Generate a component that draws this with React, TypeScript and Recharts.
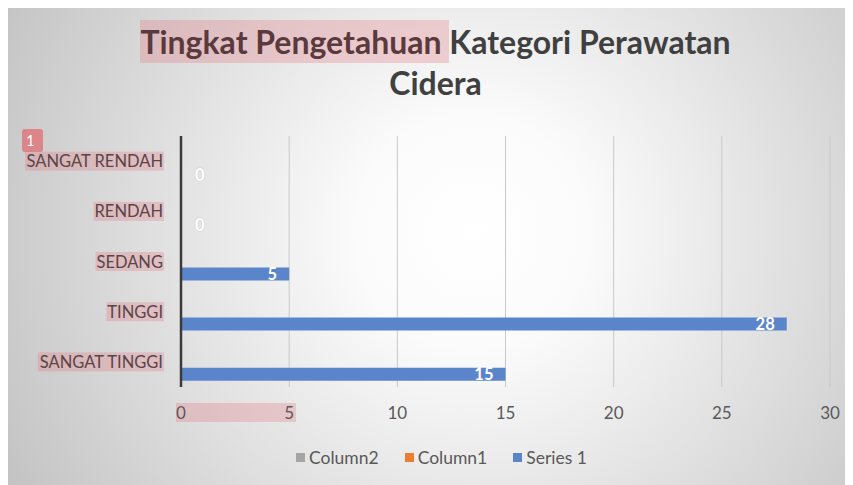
import React from "react";
import { BarChart, Bar, XAxis, YAxis, CartesianGrid, Legend, LabelList } from "recharts";

const categories = ["SANGAT RENDAH", "RENDAH", "SEDANG", "TINGGI", "SANGAT TINGGI"];
const series1Values = [0, 0, 5, 28, 15];
const column1Values: (number | null)[] = [null, null, null, null, null];
const column2Values: (number | null)[] = [null, null, null, null, null];
const xTicks = [0, 5, 10, 15, 20, 25, 30];
const legendOrder = ["Column2", "Column1", "Series 1"];
const titleHighlighted = "Tingkat Pengetahuan";
const titleRest = "Kategori Perawatan";
const titleLine2 = "Cidera";

const data = categories.map((c, i) => ({
  name: c,
  column2: column2Values[i],
  column1: column1Values[i],
  series1: series1Values[i],
}));

const W = 845;
const H = 477;
const FONT = "Lato, 'Open Sans', sans-serif";
const HL = "rgba(230,120,130,0.3)";
const LEGEND_H = 22;
const Y_AXIS_W = 173;

let ctx: CanvasRenderingContext2D | null = null;
function measure(text: string, font: string): number {
  if (!ctx) ctx = document.createElement("canvas").getContext("2d");
  if (!ctx) return text.length * 9;
  ctx.font = font;
  return ctx.measureText(text).width;
}

const ZeroLabel = ({ x, y }: { x: number; y: number }) => (
  <text
    x={x}
    y={y}
    textAnchor="start"
    dominantBaseline="central"
    fontSize={16.5}
    fontWeight={700}
    fontFamily={FONT}
    fill="#ffffff"
    stroke="#d2d2d2"
    strokeWidth={1.2}
    paintOrder="stroke"
  >
    0
  </text>
);

const YTick = (props: any) => {
  const { y, payload } = props;
  const tx = 155;
  const w = measure(payload.value, `16.5px Lato`);
  const idx = categories.indexOf(payload.value);
  const isZero = idx >= 0 && series1Values[idx] === 0;
  return (
    <g>
      <rect x={tx - w - 1} y={y - 9.5} width={w + 2} height={19} fill={HL} />
      <text x={tx} y={y} textAnchor="end" dominantBaseline="central" fontSize={16.5} fontFamily={FONT} fill="#5a4446">
        {payload.value}
      </text>
      {isZero && <ZeroLabel x={Y_AXIS_W + 14} y={y + 14} />}
    </g>
  );
};

const XTick = (props: any) => {
  const { x, payload } = props;
  const ty = 404;
  return (
    <g>
      {payload.value === 0 && <rect x={x - 5} y={ty - 9} width={120} height={19} fill={HL} />}
      <text x={x} y={ty} textAnchor="middle" dominantBaseline="central" fontSize={17} fontFamily={FONT} fill="#595959">
        {payload.value}
      </text>
    </g>
  );
};

const ValueLabel = (props: any) => {
  const { x, y, width, height, value } = props;
  const cy = y + height / 2;
  if (!value) return null;
  return (
    <text x={x + width - 12} y={cy} textAnchor="end" dominantBaseline="central" fontSize={16.5} fontWeight={700} fontFamily={FONT} fill="#ffffff">
      {value}
    </text>
  );
};

const LegendContent = (props: any) => {
  const payload = [...(props.payload || [])].sort(
    (a: any, b: any) => legendOrder.indexOf(a.value) - legendOrder.indexOf(b.value)
  );
  return (
    <div
      style={{
        display: "flex",
        justifyContent: "center",
        alignItems: "center",
        height: LEGEND_H,
        paddingLeft: 22,
        fontFamily: FONT,
        fontSize: 17.5,
        color: "#595959",
      }}
    >
      {payload.map((p: any, i: number) => (
        <div key={i} style={{ display: "flex", alignItems: "center", marginRight: i < payload.length - 1 ? 26 : 0 }}>
          <span style={{ display: "inline-block", width: 9, height: 9, background: p.color, marginRight: 4 }} />
          <span>{p.value}</span>
        </div>
      ))}
    </div>
  );
};

export default function App() {
  return (
    <div
      style={{
        position: "relative",
        width: W,
        height: H,
        background: "radial-gradient(circle at 55% 47%, #ffffff 0%, #fbfbfb 22%, #c3c3c3 100%)",
        overflow: "hidden",
      }}
    >
      <div
        style={{
          position: "absolute",
          left: 5,
          top: 13,
          width: W,
          textAlign: "center",
          fontFamily: FONT,
          fontWeight: 700,
          fontSize: 32,
          lineHeight: "41px",
          color: "#404040",
        }}
      >
        <div>
          <span style={{ background: HL, color: "#5a3a3d", padding: "2px 0" }}>{titleHighlighted} </span>
          {titleRest}
        </div>
        <div>{titleLine2}</div>
      </div>
      <div
        style={{
          position: "absolute",
          left: 14,
          top: 121,
          width: 21,
          height: 23,
          borderRadius: 3,
          background: "rgba(226,110,115,0.75)",
          color: "#fff",
          fontFamily: FONT,
          fontSize: 15,
          lineHeight: "23px",
          paddingLeft: 4,
          boxSizing: "border-box",
        }}
      >
        1
      </div>
      <BarChart
        width={W}
        height={H}
        data={data}
        layout="vertical"
        margin={{ top: 128, right: 23, bottom: 98 - 30 - LEGEND_H, left: 0 }}
        barCategoryGap="10%"
        barGap={0}
        style={{ position: "absolute", left: 0, top: 0 }}
      >
        <CartesianGrid horizontal={false} vertical={true} stroke="#c9c9c9" strokeWidth={1} />
        <XAxis
          type="number"
          domain={[0, 30]}
          ticks={xTicks}
          height={30}
          axisLine={false}
          tickLine={false}
          tick={<XTick />}
          interval={0}
        />
        <YAxis
          type="category"
          dataKey="name"
          width={Y_AXIS_W}
          axisLine={{ stroke: "#3a3a3a", strokeWidth: 2.5 }}
          tickLine={false}
          tick={<YTick />}
          interval={0}
        />
        <Legend
          content={<LegendContent />}
          wrapperStyle={{ position: "absolute", top: 438, left: 0, width: W, height: LEGEND_H }}
        />
        <Bar dataKey="column2" name="Column2" fill="#a5a5a5" isAnimationActive={false} />
        <Bar dataKey="column1" name="Column1" fill="#ed7d31" isAnimationActive={false} />
        <Bar dataKey="series1" name="Series 1" fill="#5b85cb" isAnimationActive={false}>
          <LabelList dataKey="series1" content={<ValueLabel />} />
        </Bar>
      </BarChart>
    </div>
  );
}
